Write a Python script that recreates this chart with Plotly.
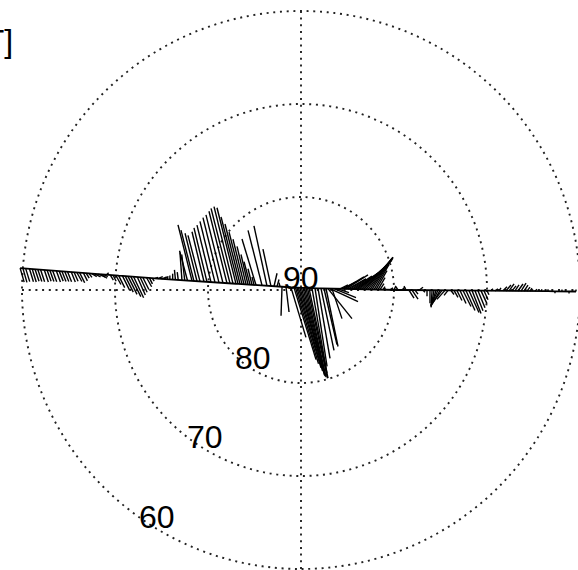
import math
import plotly.graph_objects as go

# ---------------- data (positions in degrees from the pole, perturbations in nT) -------------
track_x = [
    -30.2, -29.9, -29.6, -29.2, -28.9, -28.6, -28.3, -28.0, -27.6, -27.3, -27.0, -26.7,
    -26.3, -26.0, -25.7, -25.4, -25.1, -24.7, -24.4, -24.1, -23.8, -23.4, -23.1,
    -22.8, -22.5, -22.2, -21.8, -21.5, -21.2, -20.9, -20.5,
    -20.2, -19.9, -19.6, -19.2, -18.9, -18.6, -18.3, -18.0, -17.6, -17.3, -17.0, -16.6, -16.3, -16.0,
    -15.7, -15.4, -15.0, -14.7, -14.4,
    -14.1, -13.8, -13.5, -13.2, -12.8, -12.5, -12.2,
    -11.72, -11.51, -11.18, -10.86, -10.43, -10.11, -9.68, -9.25, -8.82, -8.39, -7.96, -7.63,
    -7.31, -6.99, -6.77, -6.56, -6.34, -6.13, -5.91, -5.70, -5.48, -5.27, -5.05,
    -4.84, -4.19, -3.66, -3.23, -2.90, -2.58, -2.26,
    -2.04, -1.61, -1.08, -0.75, -0.59, -0.43, -0.27, -0.11, 0.05, 0.22, 0.38, 0.54, 0.70, 0.86,
    1.18, 1.51, 1.83, 2.15, 2.47, 2.69, 2.90, 3.12, 3.33, 3.55, 3.87,
    4.19, 4.41, 4.62, 4.84, 5.05, 5.27, 5.48, 5.70, 5.91, 6.13, 6.34, 6.56, 6.77, 6.99,
    7.20, 7.42, 7.63, 7.85, 8.06, 8.28, 8.49,
    8.82, 9.14, 9.57, 10.00, 10.43, 10.86, 11.29, 11.61, 11.94, 12.26, 12.69, 13.12,
    13.55, 13.87, 14.09, 14.30, 14.52, 14.73, 14.95, 15.16, 15.48, 15.81,
    16.13, 16.45, 16.77, 17.10, 17.42, 17.74, 18.06, 18.39, 18.71, 19.03, 19.35, 19.68, 20.00,
    20.43, 20.86, 21.29, 21.72, 22.04, 22.37, 22.69, 23.01, 23.33, 23.66, 23.98, 24.30, 24.62,
    25.16, 25.81, 26.56, 27.31, 28.06, 28.82, 29.57,
]
track_y = [
    2.35, 2.32, 2.30, 2.28, 2.25, 2.23, 2.20, 2.17, 2.15, 2.13, 2.10, 2.08,
    2.05, 2.03, 2.00, 1.98, 1.96, 1.93, 1.90, 1.88, 1.86, 1.84, 1.81,
    1.78, 1.76, 1.73, 1.71, 1.69, 1.66, 1.63, 1.61,
    1.59, 1.56, 1.54, 1.52, 1.49, 1.47, 1.44, 1.42, 1.40, 1.37, 1.34, 1.32, 1.30, 1.27,
    1.25, 1.23, 1.20, 1.18, 1.15,
    1.13, 1.11, 1.09, 1.06, 1.04, 1.02, 1.00,
    0.98, 0.96, 0.94, 0.92, 0.89, 0.87, 0.84, 0.82, 0.79, 0.76, 0.73, 0.71,
    0.69, 0.67, 0.66, 0.65, 0.63, 0.62, 0.60, 0.59, 0.57, 0.56, 0.54,
    0.53, 0.49, 0.45, 0.42, 0.40, 0.38, 0.36,
    0.34, 0.32, 0.28, 0.26, 0.25, 0.24, 0.23, 0.22, 0.22, 0.21, 0.20, 0.20, 0.19, 0.19,
    0.19, 0.18, 0.17, 0.17, 0.16, 0.16, 0.15, 0.15, 0.15, 0.14, 0.14,
    0.13, 0.12, 0.12, 0.12, 0.11, 0.11, 0.10, 0.10, 0.10, 0.09, 0.09, 0.08, 0.08, 0.08,
    0.07, 0.06, 0.06, 0.05, 0.05, 0.05, 0.04,
    0.04, 0.03, 0.02, 0.01, 0.00, 0.00, -0.01, -0.01, -0.01, -0.01, -0.02, -0.02,
    -0.02, -0.03, -0.03, -0.03, -0.03, -0.03, -0.04, -0.04, -0.04, -0.04,
    -0.05, -0.05, -0.05, -0.05, -0.06, -0.06, -0.06, -0.06, -0.07, -0.07, -0.07, -0.08, -0.08,
    -0.08, -0.09, -0.09, -0.09, -0.10, -0.10, -0.10, -0.10, -0.11, -0.11, -0.11, -0.12, -0.12,
    -0.12, -0.13, -0.13, -0.14, -0.15, -0.15, -0.16,
]
db_east = [
    40, 40, 40, 40, 40, 40, 40, 40, 40, 40, 40, 40,
    40, 40, 40, 40, 40, 40, 40, 50, 50, 40, 30,
    30, 50, 60, 70, 60, 40, 20, 30,
    30, 50, 60, 70, 80, 90, 100, 100, 80, 70, 60, 50, 30, 20,
    30, 50, 60, 20, 10,
    0, 0, -10, -10, -20, -30, -80,
    -140, -130, -120, -120, -120, -130, -140, -150, -160, -170, -180, -190,
    -190, -190, -170, -150, -130, -110, -90, -70, -60, -40, -20,
    -140, -140, -130, -80, 30, 20, -10,
    -10, 30, 150, 220, 230, 240, 240, 240, 230, 220, 210, 200, 200, 190,
    150, 120, 120, 130, 130, 120, 240, 280, 100, 220, 120,
    80, 140, 200, 220, 180, 160, 200, 240, 270, 290, 300, 300, 290, 270,
    250, 220, 190, 150, 110, 70, 40,
    20, -20, 30, 20, -20, 30, -20, 50, 60, 30, 40, 20,
    0, 0, -10, -30, -50, -70, -80, -90, -80, -40,
    30, 40, 50, 60, 80, 90, 100, 90, 80, 70, 60, 40, 20,
    20, 30, 20, 40, 50, 50, 40, 40, 50, 50, 40, 30, 20,
    20, 10, 0, 0, 0, 0, 0,
]
db_north = [
    -140, -140, -130, -130, -130, -120, -120, -120, -120, -110, -110, -110,
    -110, -100, -100, -100, -100, -100, -90, -90, -100, -80, -50,
    -40, -30, -30, -30, -40, -20, 20, -50,
    -60, -90, -120, -140, -160, -180, -200, -210, -180, -150, -120, -90, -60, -30,
    10, 20, 20, 20, 30,
    40, 60, 100, 80, 280, 260, 300,
    560, 510, 480, 460, 500, 540, 570, 610, 650, 680, 720, 750,
    770, 760, 670, 600, 520, 450, 380, 300, 230, 160, 80,
    460, 550, 600, 370, 130, 70, 40,
    -290, -250, -500, -720, -760, -800, -830, -850, -870, -880, -880, -890, -900, -900,
    -850, -780, -700, -620, -560, -580, -300, -130, -300, -90, -40,
    40, 70, 120, 140, 100, 100, 130, 160, 190, 230, 270, 290, 310, 320,
    320, 310, 290, 250, 190, 120, 60,
    30, 20, 20, 40, 30, 30, 40, -80, -90, -40, 30, -20,
    -60, -130, -160, -170, -160, -150, -140, -120, -90, -50,
    -40, -70, -100, -130, -160, -200, -220, -230, -200, -170, -130, -90, -40,
    20, 20, 30, 40, 60, 70, 50, 60, 70, 80, 60, 40, 30,
    20, 20, 20, -20, 20, -20, 20,
]

circle_lats = [80, 70, 60]
label_lats = [90, 80, 70, 60]
unit_label = "[nT]"

# ---------------- styling / geometry ----------------
VEC_SCALE = 1 / 93.0      # degrees per nT
PX = 9.3                  # pixels per degree
W, H = 578, 570
CX, CY = 301, 290         # pole position in pixels
LABEL_ANGLE = math.radians(239)
FONT_FAMILY = "Liberation Sans, Arial, Helvetica, sans-serif"

vx, vy = [], []
for x0, y0, e, n in zip(track_x, track_y, db_east, db_north):
    vx += [x0, x0 + e * VEC_SCALE, None]
    vy += [y0, y0 + n * VEC_SCALE, None]

fig = go.Figure()
fig.add_trace(go.Scatter(x=vx, y=vy, mode="lines",
                         line=dict(color="black", width=1.4),
                         hoverinfo="skip", showlegend=False))
fig.add_trace(go.Scatter(x=track_x, y=track_y, mode="lines",
                         line=dict(color="black", width=1.8),
                         hoverinfo="skip", showlegend=False))

dot = dict(color="#222222", width=1.9, dash="2px,4.7px")
for lat in circle_lats:
    r = 90 - lat
    fig.add_shape(type="circle", xref="x", yref="y", x0=-r, y0=-r, x1=r, y1=r,
                  line=dot, layer="below")
R = 90 - min(circle_lats)
fig.add_shape(type="line", xref="x", yref="y", x0=-R, x1=R, y0=0, y1=0, line=dot, layer="below")
fig.add_shape(type="line", xref="x", yref="y", x0=0, x1=0, y0=-R, y1=R, line=dot, layer="below")

font = dict(family=FONT_FAMILY, size=32, color="black")
for lat in label_lats:
    r = 90 - lat
    fig.add_annotation(x=r * math.cos(LABEL_ANGLE), y=r * math.sin(LABEL_ANGLE),
                       text=str(lat), showarrow=False, font=font,
                       xanchor="center", yanchor="middle", yshift=12)

fig.add_annotation(xref="paper", yref="paper", x=15 / W, y=1 - 41 / H, text=unit_label,
                   showarrow=False, xanchor="right", yanchor="middle",
                   font=dict(family=FONT_FAMILY, size=32, color="black"))

fig.update_layout(
    width=W, height=H,
    margin=dict(l=0, r=0, t=0, b=0),
    paper_bgcolor="white", plot_bgcolor="white",
    xaxis=dict(range=[-CX / PX, (W - CX) / PX], visible=False, fixedrange=True),
    yaxis=dict(range=[-(H - CY) / PX, CY / PX], visible=False, fixedrange=True),
)
fig.write_html("out.html", config={"displayModeBar": False})
